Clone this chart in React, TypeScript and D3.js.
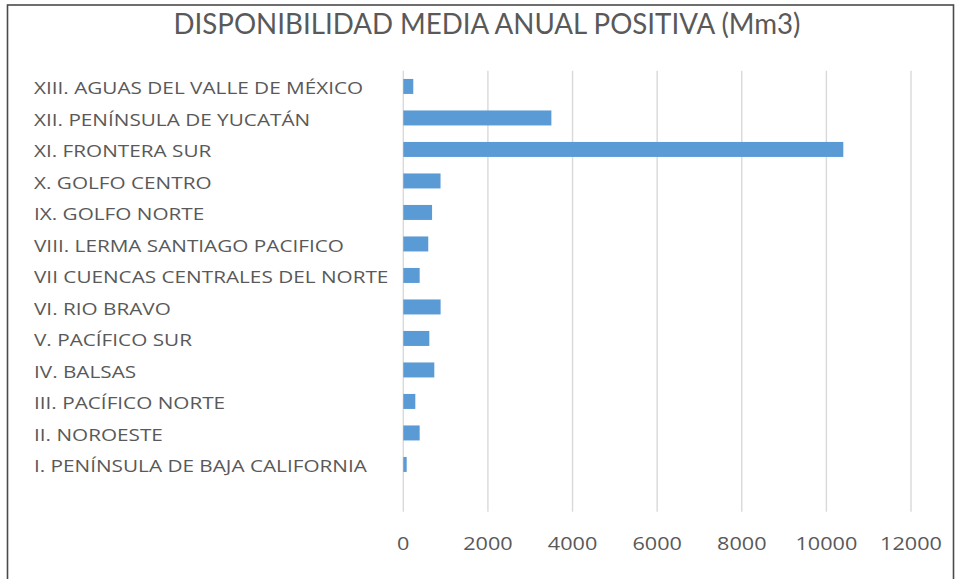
import React from "react";
import * as d3 from "d3";

const TITLE = "DISPONIBILIDAD MEDIA ANUAL POSITIVA (Mm3)";

// top to bottom; trailing blank category as in the original sheet
const categories = [
  "XIII. AGUAS DEL VALLE DE MÉXICO",
  "XII. PENÍNSULA DE YUCATÁN",
  "XI. FRONTERA SUR",
  "X. GOLFO CENTRO",
  "IX. GOLFO NORTE",
  "VIII. LERMA SANTIAGO PACIFICO",
  "VII CUENCAS CENTRALES DEL NORTE",
  "VI. RIO BRAVO",
  "V. PACÍFICO SUR",
  "IV. BALSAS",
  "III. PACÍFICO NORTE",
  "II. NOROESTE",
  "I. PENÍNSULA DE BAJA CALIFORNIA",
  "",
];

const values: (number | null)[] = [
  236, 3500, 10400, 880, 680, 590, 387, 882, 615, 733, 284, 387, 80, null,
];

const xTicks = [0, 2000, 4000, 6000, 8000, 10000, 12000];

const W = 957;
const H = 579;
const TITLE_FONT = "Lato, 'Open Sans', sans-serif";
const FONT = "'Open Sans', Lato, sans-serif";
const TEXT = "#595959";

export default function App() {
  const x = d3.scaleLinear().domain([0, 12000]).range([403.3, 911]);
  const y = d3
    .scaleBand<string>()
    .domain(categories.map((c, i) => `${i}`))
    .range([70.7, 511.7])
    .paddingInner(0.524)
    .paddingOuter(0.262);
  const [y0, y1] = [70.7, 511.7];

  return (
    <svg
      width={W}
      height={H}
      style={{ position: "absolute", left: 0, top: 0, background: "#fff" }}
    >
      <rect x={0} y={0} width={W} height={H} fill="#fff" />
      <rect
        x={7.5}
        y={5}
        width={946}
        height={H + 20}
        fill="none"
        stroke="#4a4a4a"
        strokeWidth={1.6}
      />
      <text
        x={487}
        y={34.3}
        textAnchor="middle"
        fill={TEXT}
        fontFamily={TITLE_FONT}
        fontWeight={400}
        fontSize={28}
        textLength={627}
        lengthAdjust="spacingAndGlyphs"
      >
        {TITLE}
      </text>
      {xTicks.map((t) => (
        <line
          key={`g${t}`}
          x1={x(t)}
          x2={x(t)}
          y1={y0}
          y2={y1}
          stroke="#d9d9d9"
          strokeWidth={1.4}
        />
      ))}
      {categories.map((c, i) =>
        values[i] == null ? null : (
          <rect
            key={`b${i}`}
            x={x(0)}
            y={y(`${i}`)!}
            width={x(values[i] as number) - x(0)}
            height={y.bandwidth()}
            fill="#5B9BD5"
          />
        )
      )}
      {categories.map((c, i) => (
        <text
          key={`l${i}`}
          transform={`translate(34,${y(`${i}`)! + y.bandwidth() / 2 + 7.8}) scale(1.22,1)`}
          fill={TEXT}
          fontFamily={FONT}
          fontSize={17}
        >
          {c}
        </text>
      ))}
      {xTicks.map((t) => (
        <text
          key={`t${t}`}
          transform={`translate(${x(t)},550) scale(1.17,1)`}
          textAnchor="middle"
          fill={TEXT}
          fontFamily={FONT}
          fontSize={18.5}
        >
          {t}
        </text>
      ))}
    </svg>
  );
}
